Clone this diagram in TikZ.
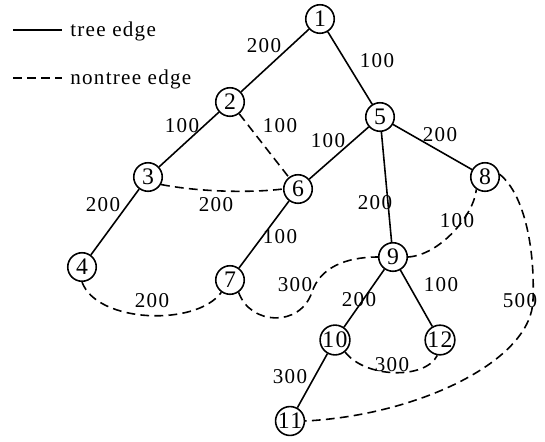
\documentclass[tikz,border=0pt]{standalone}
\usepackage{fontspec}
\setmainfont{Liberation Serif}[LetterSpace=6]
\usetikzlibrary{calc}

\begin{document}
\begin{tikzpicture}[x=0.02cm, y=-0.02cm,
  vertex/.style={circle, draw, line width=0.9pt, minimum size=0.57cm, inner sep=0pt,
    font=\fontsize{13.5}{14}\selectfont},
  treeedge/.style={line width=0.9pt},
  nontreeedge/.style={line width=0.9pt, dash pattern=on 5pt off 3pt},
  wt/.style={font=\fontsize{12}{12}\selectfont, inner sep=0pt}]

\useasboundingbox (0,0) rectangle (545,441);

% Vertices
\node[vertex] (n1) at (320,19) {1};
\node[vertex] (n2) at (230,102) {2};
\node[vertex] (n3) at (148,177) {3};
\node[vertex] (n4) at (82,267) {4};
\node[vertex] (n5) at (380,117) {5};
\node[vertex] (n6) at (298,189) {6};
\node[vertex] (n7) at (230,280) {7};
\node[vertex] (n8) at (485,177) {8};
\node[vertex] (n9) at (393,257) {9};
\node[vertex] (n10) at (335,340) {10};
\node[vertex] (n11) at (290,421) {11};
\node[vertex] (n12) at (440,340) {12};

% Legend
\coordinate (tA) at (13,30);
\coordinate (tB) at (62,30);
\coordinate (ntA) at (13,78);
\coordinate (ntB) at (62,78);
\draw[treeedge] (tA) -- (tB);
\draw[nontreeedge] (ntA) -- (ntB);
\node[wt, anchor=base west] (ltree) at (70,36) {tree edge};
\node[wt, anchor=base west] (lnontree) at (70,84) {nontree edge};

% Tree edges
\draw[treeedge] (n1) -- (n2);
\draw[treeedge] (n1) -- (n5);
\draw[treeedge] (n2) -- (n3);
\draw[treeedge] (n3) -- (n4);
\draw[treeedge] (n5) -- (n6);
\draw[treeedge] (n5) -- (n8);
\draw[treeedge] (n5) -- (n9);
\draw[treeedge] (n6) -- (n7);
\draw[treeedge] (n9) -- (n10);
\draw[treeedge] (n9) -- (n12);
\draw[treeedge] (n10) -- (n11);

% Nontree edges
\draw[nontreeedge] (n2) -- (n6);
\draw[nontreeedge] (n3.-30) .. controls (200,192) and (250,193) .. (n6.west);
\draw[nontreeedge] (n4.-90) .. controls (97,323) and (196,327) .. (n7.-125);
\draw[nontreeedge] (n7.-55) .. controls (250,325) and (300,328) .. (312,292)
  .. controls (320,268) and (345,257) .. (n9.west);
\draw[nontreeedge] (n9.east) .. controls (440,255) and (474,215) .. (n8.-125);
\draw[nontreeedge] (n10.-50) .. controls (365,378) and (425,380) .. (n12.-100);
\draw[nontreeedge] (n8.10) .. controls (525,195) and (535,250) .. (533,300)
  .. controls (532,360) and (420,415) .. (n11.east);

% Weights
\node[wt] (w12) at (264,46) {200};
\node[wt] (w15) at (377,61) {100};
\node[wt] (w23) at (182,126) {100};
\node[wt] (w26) at (280,126) {100};
\node[wt] (w56) at (328,141) {100};
\node[wt] (w58) at (440,135) {200};
\node[wt] (w34) at (103,205) {200};
\node[wt] (w36) at (216,205) {200};
\node[wt] (w67) at (280,237) {100};
\node[wt] (w59) at (375,203) {200};
\node[wt] (w910) at (359,300) {200};
\node[wt] (w912) at (441,285) {100};
\node[wt] (w1011) at (290,377) {300};
\node[wt] (w89) at (457,221) {100};
\node[wt] (w79) at (295,285) {300};
\node[wt] (w47) at (152,301) {200};
\node[wt] (w1012) at (392,365) {300};
\node[wt] (w811) at (520,301) {500};

\end{tikzpicture}
\end{document}
